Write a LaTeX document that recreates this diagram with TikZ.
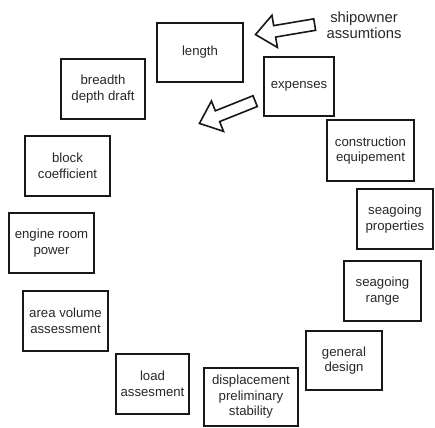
\documentclass[tikz,border=0pt]{standalone}
\usepackage{fontspec}
\setmainfont{Liberation Sans}
\usetikzlibrary{positioning,shapes.arrows}
\definecolor{BoxLine}{RGB}{24,24,24}
\definecolor{LabelGray}{RGB}{40,40,40}
\tikzset{
  box/.style={draw=BoxLine,line width=1.7pt,fill=white,align=center,
    inner sep=1pt,text=LabelGray,font=\fontsize{13.2}{15.5}\selectfont,
    minimum height=59pt},
  blockarrow/.style={single arrow,draw=BoxLine,line width=1.6pt,fill=white,
    inner sep=5pt,minimum width=31pt,minimum height=60pt,
    single arrow head extend=10.5pt,single arrow tip angle=80},
  note/.style={align=center,text=LabelGray,font=\fontsize{14.8}{16.5}\selectfont}
}

\begin{document}
\begin{tikzpicture}[x=1pt,y=-1pt]
  \useasboundingbox[fill=white] (0,0) rectangle (435,427);

  \node[box,minimum width=86pt] (length) at (200,52.5) {length};
  \node[box,minimum width=70pt] (expenses) at (299,86.5) {expenses};
  \node[box,minimum width=87pt,minimum height=61pt] (constr) at (370.5,150.5) {construction\\equipement};
  \node[box,minimum width=76pt,minimum height=60pt] (seaprop) at (395,219) {seagoing\\properties};
  \node[box,minimum width=77pt,minimum height=60pt] (searange) at (382.5,291) {seagoing\\range};
  \node[box,minimum width=76pt] (general) at (344,360.5) {general\\design};
  \node[box,minimum width=94pt,minimum height=58pt] (displ) at (251,397) {displacement\\preliminary\\stability};
  \node[box,minimum width=73pt,minimum height=60pt] (load) at (152.5,384) {load\\assesment};
  \node[box,minimum width=85pt,minimum height=60pt] (area) at (65.5,321) {area volume\\assessment};
  \node[box,minimum width=85pt,minimum height=60pt] (engine) at (51.5,243) {engine room\\power};
  \node[box,minimum width=85pt,minimum height=60pt] (block) at (67.5,166) {block\\coefficient};
  \node[box,minimum width=84pt,minimum height=60pt] (breadth) at (103,89) {breadth\\depth draft};

  \node[note] (owner) at (364,25) {shipowner\\assumtions};

  % hollow arrows
  \node[blockarrow,rotate=189.6] (arrowtop) at (288.5,29) {};
  \node[blockarrow,rotate=201.8] (arrowmid) at (230.5,111) {};
\end{tikzpicture}
\end{document}
